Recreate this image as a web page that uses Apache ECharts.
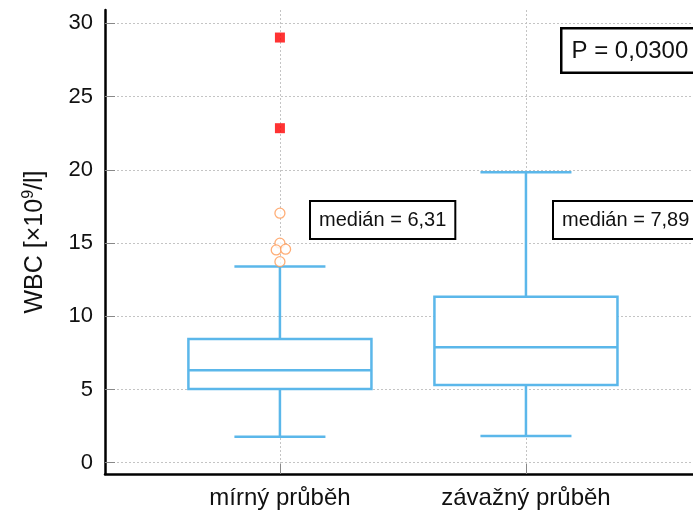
<!DOCTYPE html>
<html>
<head>
<meta charset="utf-8">
<script src="https://cdn.jsdelivr.net/npm/echarts@6/dist/echarts.min.js"></script>
<style>html,body{margin:0;padding:0;background:#fff}#c{width:693px;height:511px}</style>
</head>
<body>
<div id="c"></div>
<script>
// ---- data ----
const categories = ['mírný průběh', 'závažný průběh'];
const categoryPos = [1, 2];
const boxMin    = [1.78, 1.82];
const boxQ1     = [5.03, 5.31];
const boxMedian = [6.31, 7.89];
const boxQ3     = [8.45, 11.34];
const boxMax    = [13.39, 19.84];
// outliers of group 1
const farOutliersX = [1, 1];
const farOutliersY = [29.03, 22.84];
const nearOutliersX = [1, 1, 0.985, 1.023, 1];
const nearOutliersY = [17.04, 14.99, 14.53, 14.58, 13.73];
const yTicks = [0, 5, 10, 15, 20, 25, 30];
const medianLabels = ['medián = 6,31', 'medián = 7,89'];
const pLabel = 'P = 0,0300';

const BLUE = '#5bb7ea';
const BOX_W = 0.744, CAP_W = 0.37;

const boxData = categoryPos.map((p, i) => [p, boxMin[i], boxQ1[i], boxMedian[i], boxQ3[i], boxMax[i]]);
const farData = farOutliersX.map((x, i) => [x, farOutliersY[i]]);
const nearData = nearOutliersX.map((x, i) => [x, nearOutliersY[i]]);

const chart = echarts.init(document.getElementById('c'), null, {renderer: 'canvas'});
const FONT = 'Liberation Sans, Arial, sans-serif';
const grid = {left: 105, right: 0, top: 10, bottom: 37};

chart.setOption({
  animation: false,
  backgroundColor: '#fff',
  grid: grid,
  xAxis: {
    type: 'value', min: 0.289, max: 2.679,
    axisLine: {show: true, onZero: false, lineStyle: {color: '#000', width: 2.5}},
    axisTick: {show: true, inside: true, length: 10, customValues: categoryPos, lineStyle: {color: '#888', width: 1}},
    axisLabel: {customValues: categoryPos, margin: 12, fontSize: 24, fontFamily: FONT, color: '#111',
      formatter: v => categories[categoryPos.indexOf(Math.round(v))] || ''},
    splitLine: {show: true, lineStyle: {color: '#c4c4c4', type: [2, 2], width: 1}}
  },
  yAxis: {
    type: 'value', min: -0.77, max: 30.91,
    name: '{a|WBC [×10}{s|9}{a|/l]}', nameLocation: 'middle', nameGap: 56, nameRotate: 90,
    nameTextStyle: {rich: {
      a: {fontSize: 25, fontFamily: FONT, color: '#111'},
      s: {fontSize: 16, fontFamily: FONT, color: '#111', verticalAlign: 'top', padding: [0,0,12,0]}
    }},
    axisLine: {show: true, onZero: false, lineStyle: {color: '#000', width: 2.5}},
    axisTick: {show: true, inside: true, length: 10, customValues: yTicks, lineStyle: {color: '#888', width: 1}},
    axisLabel: {customValues: yTicks, margin: 12, fontSize: 22, fontFamily: FONT, color: '#111'},
    splitLine: {show: true, lineStyle: {color: '#c4c4c4', type: [2, 2], width: 1}}
  },
  series: [
    {
      type: 'custom',
      data: boxData,
      encode: {x: 0, y: [1, 2, 3, 4, 5]},
      z: 2,
      renderItem: function (params, api) {
        const x = api.value(0);
        const lo = api.coord([x, api.value(1)]);
        const q1 = api.coord([x, api.value(2)]);
        const md = api.coord([x, api.value(3)]);
        const q3 = api.coord([x, api.value(4)]);
        const hi = api.coord([x, api.value(5)]);
        const bw = api.size([BOX_W, 0])[0];
        const cw = api.size([CAP_W, 0])[0];
        const st = {stroke: BLUE, lineWidth: 2.5, fill: null};
        const cx = md[0];
        return {type: 'group', children: [
          {type: 'line', shape: {x1: cx, y1: hi[1], x2: cx, y2: q3[1]}, style: st},
          {type: 'line', shape: {x1: cx, y1: q1[1], x2: cx, y2: lo[1]}, style: st},
          {type: 'line', shape: {x1: cx - cw/2, y1: hi[1], x2: cx + cw/2, y2: hi[1]}, style: st},
          {type: 'line', shape: {x1: cx - cw/2, y1: lo[1], x2: cx + cw/2, y2: lo[1]}, style: st},
          {type: 'rect', shape: {x: cx - bw/2, y: q3[1], width: bw, height: q1[1] - q3[1]}, style: {stroke: BLUE, lineWidth: 2.5, fill: '#fff'}},
          {type: 'line', shape: {x1: cx - bw/2, y1: md[1], x2: cx + bw/2, y2: md[1]}, style: st}
        ]};
      }
    },
    {
      type: 'scatter', data: farData, symbol: 'rect', symbolSize: 10, z: 5,
      itemStyle: {color: '#ff0000'}
    },
    {
      type: 'scatter', data: nearData, symbol: 'circle', symbolSize: 10, z: 5,
      itemStyle: {color: '#fff', borderColor: '#ff9a55', borderWidth: 1.3}
    }
  ],
  graphic: [
    {type: 'text', left: 309, top: 200, z: 10,
      style: {text: medianLabels[0], font: '20px ' + FONT, fill: '#111', backgroundColor: '#fff',
        borderColor: '#000', borderWidth: 2, padding: [6, 8, 6, 8], lineHeight: 24}},
    {type: 'text', left: 552, top: 200, z: 10,
      style: {text: medianLabels[1], font: '20px ' + FONT, fill: '#111', backgroundColor: '#fff',
        borderColor: '#000', borderWidth: 2, padding: [6, 20, 6, 8], lineHeight: 24}},
    {type: 'text', left: 560, top: 27, z: 10,
      style: {text: pLabel, font: '24px ' + FONT, fill: '#111', backgroundColor: '#fff',
        borderColor: '#000', borderWidth: 2.5, padding: [8, 20, 6, 9], lineHeight: 28}}
  ]
});
</script>
</body>
</html>
